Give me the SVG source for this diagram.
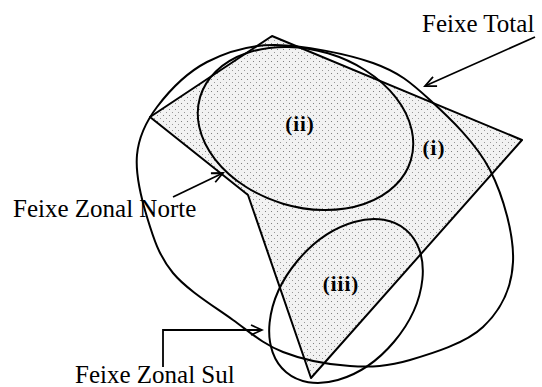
<svg xmlns="http://www.w3.org/2000/svg" width="542" height="387" viewBox="0 0 542 387">
  <style>
    .ln { fill: none; stroke: #000; stroke-width: 2; stroke-linejoin: round; }
    .ar { fill: none; stroke: #000; stroke-width: 1.8; }
    .lbl { font-family: "Liberation Serif", "Times New Roman", serif; font-size: 25px; fill: #000; }
    .num { font-family: "Liberation Serif", "Times New Roman", serif; font-size: 21px; font-weight: bold; fill: #000; text-anchor: middle; letter-spacing: 1px; }
  </style>
  <defs>
    <pattern id="stipple" width="6" height="6" patternUnits="userSpaceOnUse">
      <rect width="6" height="6" fill="#f2f2f2"/>
      <rect x="1" y="1" width="1" height="1" fill="#808080"/>
      <rect x="4" y="4" width="1" height="1" fill="#999"/>
    </pattern>
    <marker id="head" markerWidth="14" markerHeight="12" refX="12" refY="6" orient="auto" markerUnits="userSpaceOnUse">
      <path d="M1,1 L12,6 L1,11" fill="none" stroke="#000" stroke-width="1.8"/>
    </marker>
  </defs>
  <rect width="542" height="387" fill="#fff"/>

  <g id="area-i">
    <polygon points="150,117 272,36 522,140 311,378 248,195" fill="url(#stipple)"/>
    <polygon class="ln" points="150,117 272,36 522,140 311,378 248,195"/>
    <text class="num" x="434" y="155">(i)</text>
  </g>

  <g id="feixe-total">
    <path class="ln" d="M275,45 C302.7,45.2 347.2,53.8 373,63 C398.8,72.2 410.5,82.2 430,100 C449.5,117.8 476.2,143 490,170 C503.8,197 514.2,235.8 513,262 C511.8,288.2 500.2,310.7 483,327 C465.8,343.3 432.2,353.5 410,360 C387.8,366.5 371.2,367.3 350,366 C328.8,364.7 302.5,359.7 283,352 C263.5,344.3 251.3,333.2 233,320 C214.7,306.8 187.3,290.2 173,273 C158.7,255.8 153,236.7 147,217 C141,197.3 135.3,173.3 137,155 C138.7,136.7 145.3,122.5 157,107 C168.7,91.5 187.3,72.3 207,62 C226.7,51.7 247.3,44.8 275,45 Z"/>
  </g>

  <g id="feixe-zonal-norte">
    <ellipse class="ln" cx="305.5" cy="128.5" rx="110" ry="78.5" transform="rotate(16.7 305.5 128.5)"/>
    <text class="num" x="300" y="131">(ii)</text>
  </g>

  <g id="feixe-zonal-sul">
    <ellipse class="ln" cx="346" cy="301" rx="93" ry="63" transform="rotate(-50 346 301)"/>
    <text class="num" x="341" y="291">(iii)</text>
  </g>

  <g id="labels">
    <text class="lbl" x="422" y="32">Feixe Total</text>
    <text class="lbl" x="13" y="217">Feixe Zonal Norte</text>
    <text class="lbl" x="75" y="383">Feixe Zonal Sul</text>
  </g>

  <g id="connectors">
    <line class="ar" x1="535" y1="37" x2="425" y2="86" marker-end="url(#head)"/>
    <line class="ar" x1="173" y1="197" x2="223" y2="173" marker-end="url(#head)"/>
    <polyline class="ar" points="163,367 163,330 262,330" marker-end="url(#head)"/>
  </g>
</svg>
